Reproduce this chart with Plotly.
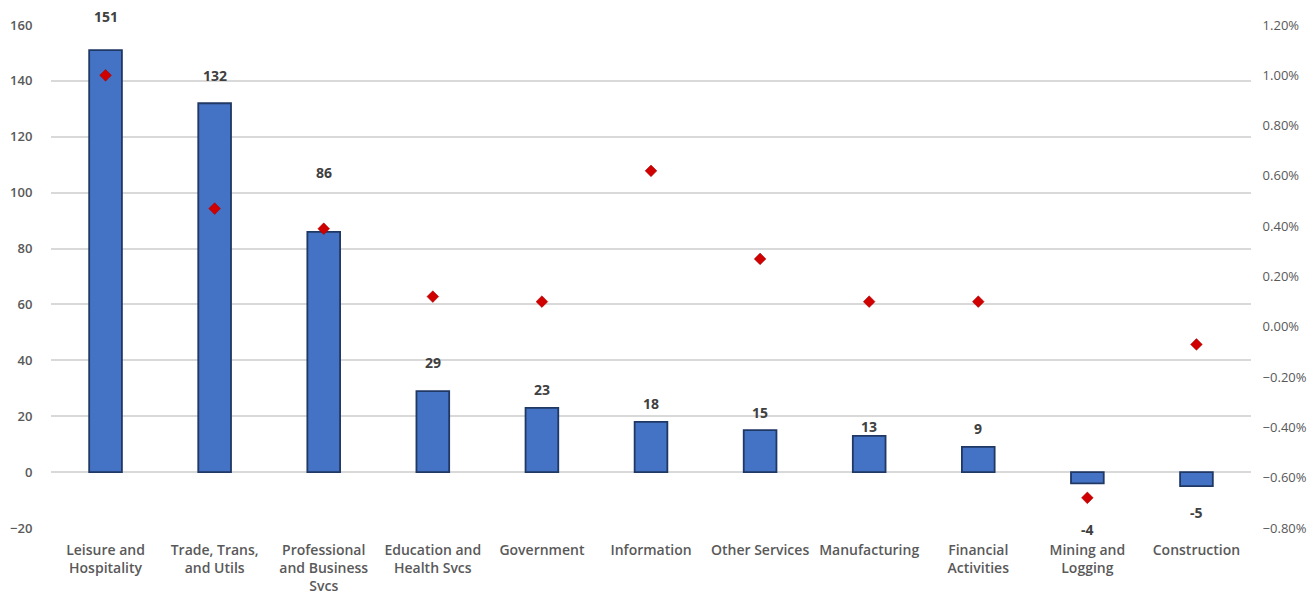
import plotly.graph_objects as go

categories = ["Leisure and<br>Hospitality", "Trade, Trans,<br>and Utils", "Professional<br>and Business<br>Svcs",
              "Education and<br>Health Svcs", "Government", "Information", "Other Services",
              "Manufacturing", "Financial<br>Activities", "Mining and<br>Logging", "Construction"]
job_change = [151, 132, 86, 29, 23, 18, 15, 13, 9, -4, -5]
pct_change = [0.0100, 0.0047, 0.0039, 0.0012, 0.0010, 0.0062, 0.0027, 0.0010, 0.0010, -0.0068, -0.0007]
label_text = ["151", "132", "86", "29", "23", "18", "15", "13", "9", "-4", "-5"]
label_shift_px = [34, 28, 59, 29, 18, 18, 18, 9, 18, -46, -26]

fig = go.Figure()
fig.add_trace(go.Bar(
    x=categories, y=job_change, width=0.30,
    marker=dict(color="#4472C4", line=dict(color="#1F3864", width=1.8)),
    name="Jobs", yaxis="y",
))
fig.add_trace(go.Scatter(
    x=categories, y=pct_change, mode="markers", yaxis="y2",
    marker=dict(symbol="diamond", size=9, color="#D00000", line=dict(color="#A00000", width=0.5)),
    name="Pct",
))

for c, v, t, s in zip(categories, job_change, label_text, label_shift_px):
    fig.add_annotation(x=c, y=v, xref="x", yref="y", text=t, showarrow=False,
                       yanchor="middle", yshift=s,
                       font=dict(family="Open Sans", size=14, color="#404040", weight="bold"))

fig.update_layout(
    width=1312, height=597,
    margin=dict(l=51, r=61, t=25, b=69),
    paper_bgcolor="white", plot_bgcolor="white",
    showlegend=False,
    font=dict(family="Open Sans", color="#595959"),
    xaxis=dict(showgrid=False, showline=False, ticks="outside", ticklen=9, tickcolor="rgba(0,0,0,0)",
               range=[-0.5, 10.5],
               tickfont=dict(size=14, color="#595959", weight=600), automargin=False),
    yaxis=dict(range=[-20, 160], dtick=20, showgrid=True, gridcolor="#D9D9D9", gridwidth=1.5,
               zeroline=True, zerolinecolor="#D9D9D9", zerolinewidth=1.5,
               ticks="outside", ticklen=15, tickcolor="rgba(0,0,0,0)",
               tickfont=dict(size=13, color="#595959", weight=600),
               automargin=False),
    yaxis2=dict(range=[-0.008, 0.012], dtick=0.002, tickformat=".2%", overlaying="y", side="right",
                showgrid=False, zeroline=False,
                ticks="outside", ticklen=8, tickcolor="rgba(0,0,0,0)",
                tickfont=dict(size=13, color="#595959"), automargin=False),
    bargap=0.7,
)

fig.write_html("out.html")
